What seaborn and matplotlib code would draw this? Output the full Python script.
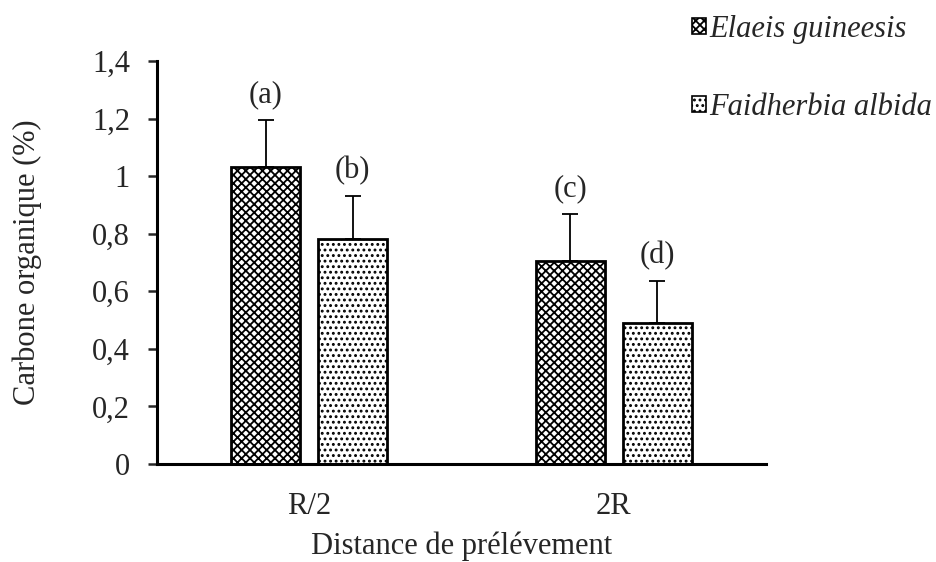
import matplotlib
matplotlib.use("Agg")
import matplotlib.pyplot as plt
import seaborn as sns
import pandas as pd
import numpy as np
from matplotlib.patches import Patch

sns.set_style("white")
plt.rcParams['font.family'] = ['Liberation Serif', 'DejaVu Serif']
plt.rcParams['hatch.linewidth'] = 1.3

categories = ["R/2", "2R"]
species = ["Elaeis guineesis", "Faidherbia albida"]
elaeis_vals = [1.03, 0.705]
faidherbia_vals = [0.78, 0.49]
elaeis_err = [0.165, 0.163]
faidherbia_err = [0.15, 0.145]
letters_elaeis = ["(a)", "(c)"]
letters_faidherbia = ["(b)", "(d)"]
yticks = [0, 0.2, 0.4, 0.6, 0.8, 1.0, 1.2, 1.4]
ytick_labels = ["0", "0,2", "0,4", "0,6", "0,8", "1", "1,2", "1,4"]

FS = 22

df = pd.DataFrame({
    "Distance": categories * 2,
    "Espece": [species[0]] * 2 + [species[1]] * 2,
    "Valeur": elaeis_vals + faidherbia_vals,
})

fig = plt.figure(figsize=(9.36, 5.62), dpi=100)
ax = fig.add_axes([0.1677, 0.1744, 0.6507, 0.7171])

sns.barplot(data=df, x="Distance", y="Valeur", hue="Espece", order=categories,
            hue_order=species, palette=["white", "white"], edgecolor="black",
            linewidth=2.0, width=0.572, gap=0.206, errorbar=None, legend=False, ax=ax)

hatches = ["xxxx", "..."]
errs = [elaeis_err, faidherbia_err]
letters = [letters_elaeis, letters_faidherbia]
for cont, h, e, lt in zip(ax.containers, hatches, errs, letters):
    xs, ys = [], []
    for bar in cont:
        bar.set_hatch(h)
        xs.append(bar.get_x() + bar.get_width() / 2)
        ys.append(bar.get_height())
    ax.errorbar(xs, ys, yerr=[np.zeros(len(e)), e], fmt="none", ecolor="black",
                elinewidth=1.3, capsize=6, capthick=1.3, zorder=3)
    for x, y, err, t in zip(xs, ys, e, lt):
        ax.annotate(t, (x, y + err), xytext=(0, 8), textcoords="offset points",
                    ha="center", va="bottom", fontsize=FS)

ax.set_ylim(0, 1.4)
ax.set_xlim(-0.5, 1.5)
ax.set_yticks(yticks)
ax.set_yticklabels(ytick_labels)
ax.tick_params(axis="y", which="both", direction="out", length=6.5, width=1.8,
               labelsize=FS, left=True, pad=13)
ax.tick_params(axis="x", length=0, labelsize=FS, pad=20)
for s in ["top", "right"]:
    ax.spines[s].set_visible(False)
for s in ["left", "bottom"]:
    ax.spines[s].set_linewidth(2.2)
    ax.spines[s].set_color("black")
ax.set_ylabel("Carbone organique (%)", fontsize=FS, labelpad=36)
ax.set_xlabel("Distance de prélévement", fontsize=FS, labelpad=8)

handles = [Patch(facecolor="white", edgecolor="black", hatch=h, linewidth=1.2) for h in hatches]
fig.legend(handles, species, loc="upper left", bbox_to_anchor=(0.733, 0.984),
           frameon=False, prop={"style": "italic", "size": FS}, borderpad=0.2,
           borderaxespad=0.0,
           handlelength=0.45, handleheight=0.45, handletextpad=0.1, labelspacing=1.6)

fig.savefig("out.png", dpi=100)
